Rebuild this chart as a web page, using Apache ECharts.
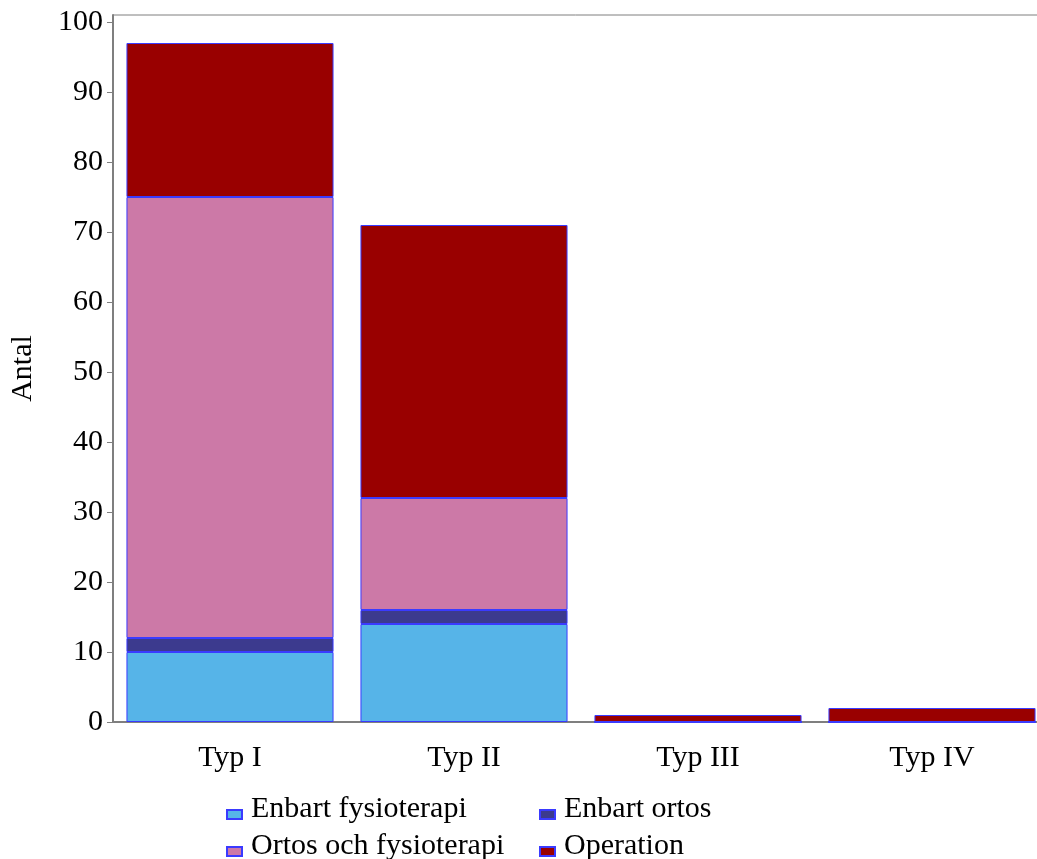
<!DOCTYPE html>
<html>
<head>
<meta charset="utf-8">
<style>
  html, body { margin: 0; padding: 0; background: #ffffff; }
  #chart { width: 1037px; height: 859px; }
</style>
<script src="https://cdn.jsdelivr.net/npm/echarts@6/dist/echarts.min.js"></script>
</head>
<body>
<div id="chart"></div>
<script>
// Fracture types on the x axis
const categories = ['Typ I', 'Typ II', 'Typ III', 'Typ IV'];

// Number of patients per treatment, stacked per type
const enbartFysioterapi = [10, 14, 0, 0];
const enbartOrtos = [2, 2, 0, 0];
const ortosOchFysioterapi = [63, 16, 0, 0];
const operation = [22, 39, 1, 2];

const yTicks = [0, 10, 20, 30, 40, 50, 60, 70, 80, 90, 100];

const FONT = '"Liberation Serif", "DejaVu Serif", serif';
const FS = 30;
const EDGE = '#3a3aff';

function stackSeries(name, data, color) {
  return {
    name: name,
    type: 'bar',
    stack: 'total',
    data: data,
    barWidth: '88.5%',
    itemStyle: { color: color, borderColor: EDGE, borderWidth: 1 },
    emphasis: { disabled: true }
  };
}

// Legend columns; icons sit a little below the text's middle
function legendColumn(left, names) {
  return {
    orient: 'vertical', left: left, top: 789, height: 120,
    itemWidth: 15, itemHeight: 9, itemGap: 7, icon: 'rect',
    formatter: function (name) { return '{t|' + name + '}'; },
    textStyle: {
      fontFamily: FONT, fontSize: FS, color: '#000', padding: [0, 0, 0, 4],
      rich: { t: { fontFamily: FONT, fontSize: FS, color: '#000', padding: [0, 0, 11, 0] } }
    },
    data: names
  };
}

const chart = echarts.init(document.getElementById('chart'), null, { renderer: 'canvas' });
chart.setOption({
  animation: false,
  backgroundColor: '#ffffff',
  textStyle: { fontFamily: FONT },
  grid: {
    left: 113, top: 15, width: 936, height: 707,
    outerBoundsMode: 'none', containLabel: false,
    show: true, borderColor: '#7f7f7f', borderWidth: 1, backgroundColor: 'transparent'
  },
  legend: [
    legendColumn(221, ['Enbart fysioterapi', 'Ortos och fysioterapi']),
    legendColumn(534, ['Enbart ortos', 'Operation'])
  ],
  xAxis: {
    type: 'category',
    data: categories,
    axisLine: { lineStyle: { color: '#7f7f7f', width: 2 } },
    axisTick: { show: false },
    axisLabel: { fontFamily: FONT, fontSize: FS, color: '#000', margin: 21 }
  },
  yAxis: {
    type: 'value',
    min: 0, max: 101, interval: 10,
    name: 'Antal',
    nameLocation: 'middle',
    nameGap: 75,
    nameTextStyle: { fontFamily: FONT, fontSize: FS, color: '#000' },
    splitLine: { show: false },
    axisLine: { show: true, lineStyle: { color: '#7f7f7f', width: 2 } },
    axisTick: { show: true, length: 6, lineStyle: { color: '#7f7f7f' } },
    axisLabel: {
      fontFamily: FONT, fontSize: FS, color: '#000', margin: 10,
      showMaxLabel: false,
      formatter: function (v) { return yTicks.indexOf(v) >= 0 ? String(v) : ''; }
    }
  },
  series: [
    stackSeries('Enbart fysioterapi', enbartFysioterapi, '#56b4e8'),
    stackSeries('Enbart ortos', enbartOrtos, '#3c3a8e'),
    stackSeries('Ortos och fysioterapi', ortosOchFysioterapi, '#cc79a7'),
    stackSeries('Operation', operation, '#990000')
  ]
});
</script>
</body>
</html>
